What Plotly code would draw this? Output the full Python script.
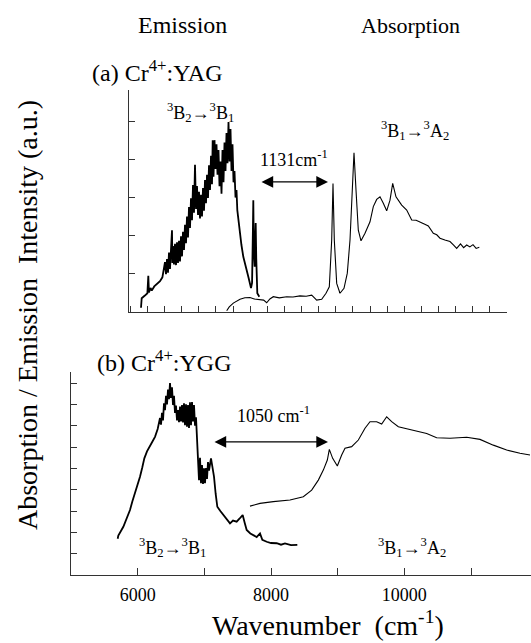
import plotly.graph_objects as go

W, H = 531, 643

# ---------------- data ----------------
# (a) Cr4+:YAG emission (noisy band read as alternating upper / lower values)
yag_em_x = [5888, 5899, 5950, 5990, 6005, 6015, 6040, 6060, 6100, 6140, 6192, 6230,
            6272, 6288, 6304, 6320, 6336, 6352, 6368, 6384, 6390, 6400, 6416, 6432, 6448, 6464,
            6480, 6496, 6512, 6528, 6544, 6560, 6576, 6592, 6608, 6624, 6640, 6656, 6672, 6688,
            6704, 6720, 6736, 6752, 6768, 6784, 6800, 6816, 6832, 6848, 6864, 6880, 6896, 6912,
            6928, 6944, 6960, 6976, 6992, 7008, 7024, 7035, 7048, 7064, 7080, 7096, 7112, 7128,
            7144, 7160, 7176, 7192, 7208, 7224, 7240, 7256, 7272, 7288, 7304, 7320, 7336, 7352,
            7368, 7384, 7400, 7416, 7429, 7450, 7472, 7495, 7525, 7550, 7579,
            7610, 7648, 7665, 7678, 7685, 7693, 7707, 7715, 7723, 7732, 7749, 7781]
yag_em_y = [0.10, 0.35, 0.42, 0.48, 0.94, 0.50, 0.62, 0.55, 0.66, 0.72, 0.80, 0.90,
            1.30, 0.98, 1.38, 1.02, 1.55, 1.12, 1.70, 2.14, 1.28, 1.72, 1.24, 1.78, 1.22, 1.82,
            1.28, 1.86, 1.32, 1.98, 1.45, 2.10, 1.62, 2.28, 1.80, 2.50, 1.95, 2.75, 2.20, 2.98,
            2.40, 3.33, 2.60, 3.86, 2.70, 3.30, 2.54, 3.15, 2.45, 3.07, 2.50, 3.25, 2.65, 3.46,
            2.85, 3.60, 2.99, 3.85, 3.20, 4.10, 3.35, 4.51, 3.55, 4.51, 3.75, 4.40, 3.60, 4.25,
            3.30, 3.95, 3.10, 4.25, 3.40, 4.45, 3.70, 4.70, 3.90, 4.99, 3.95, 4.80, 3.70, 4.40,
            3.40, 3.70, 3.00, 3.20, 2.67, 2.35, 2.07, 1.75, 1.44, 1.25, 1.09,
            0.88, 0.62, 0.75, 2.10, 2.93, 1.60, 1.18, 1.90, 2.33, 1.40, 0.48, 0.39]

# (a) Cr4+:YAG absorption
yag_ab_x = [7259, 7300, 7365, 7420, 7472, 7550, 7632, 7700, 7792, 7850, 7899, 7950, 8005, 8100, 8219,
            8320, 8432, 8530, 8619, 8699, 8779, 8848, 8901, 8939, 8960, 8981, 9019, 9072, 9136, 9189,
            9232, 9264, 9296, 9328, 9365, 9408, 9472, 9552, 9605, 9659, 9712, 9765, 9819, 9872, 9915,
            9968, 10059, 10139, 10219, 10290, 10352, 10420, 10485, 10565, 10620, 10672, 10750, 10832,
            10890, 10939, 11000, 11050, 11099, 11150, 11200, 11250, 11301]
yag_ab_y = [0.02, 0.12, 0.22, 0.28, 0.32, 0.36, 0.37, 0.33, 0.32, 0.30, 0.23, 0.33, 0.39, 0.36, 0.39,
            0.38, 0.41, 0.40, 0.43, 0.30, 0.32, 0.48, 0.65, 1.88, 3.37, 1.88, 0.74, 0.48, 0.61, 1.01,
            1.88, 3.20, 4.18, 3.20, 2.14, 1.86, 2.06, 2.36, 2.76, 2.95, 3.02, 2.85, 2.65, 2.93, 3.37,
            3.02, 2.80, 2.67, 2.41, 2.40, 2.36, 2.30, 2.25, 2.06, 2.02, 1.93, 1.88, 1.84, 1.75, 1.66,
            1.78, 1.68, 1.75, 1.70, 1.76, 1.66, 1.69]

# (b) Cr4+:YGG emission (noisy band read as alternating upper / lower values)
ygg_em_x = [5700, 5710, 5785, 5830, 5885, 5920, 5960, 6000, 6035, 6070, 6100, 6140, 6185, 6220, 6260,
            6300, 6335, 6350, 6365, 6380, 6395, 6410, 6425, 6440, 6455, 6470, 6485, 6500, 6515, 6530,
            6545, 6560, 6575, 6590, 6605, 6620, 6635, 6650, 6665, 6680, 6695, 6710, 6725, 6740, 6755,
            6770, 6785, 6800, 6815, 6830, 6845, 6860, 6875, 6890, 6905, 6920, 6935, 6950, 6965, 6980,
            6995, 7010, 7025, 7040, 7055, 7070, 7100, 7120, 7145,
            7170, 7195, 7240, 7285, 7330, 7385, 7430, 7485, 7530, 7575, 7605, 7635, 7690, 7735, 7785,
            7835, 7870, 7935, 8000, 8085, 8150, 8210, 8300, 8395]
ygg_em_y = [1.70, 1.85, 2.26, 2.60, 3.05, 3.45, 3.83, 4.20, 4.61, 5.05, 5.47, 5.80, 6.02, 6.25, 6.48,
            6.85, 7.36, 7.05, 7.60, 7.25, 8.05, 7.73, 8.40, 8.00, 8.70, 8.25, 9.00, 8.30, 8.80, 7.97,
            8.40, 7.60, 7.95, 7.25, 7.73, 7.17, 7.90, 7.20, 7.97, 7.15, 8.05, 7.03, 8.00, 6.95, 7.97,
            6.90, 8.10, 7.03, 8.11, 7.20, 7.97, 7.00, 7.40, 6.33, 6.00, 4.45, 5.50, 4.30, 5.16, 4.27,
            5.00, 4.31, 5.02, 4.50, 5.30, 4.90, 5.47, 5.10, 4.61,
            3.80, 3.20, 3.00, 2.81, 2.60, 2.42, 2.55, 2.50, 2.65, 2.81, 2.45, 2.11, 1.95, 1.88, 1.78,
            1.95, 1.65, 1.56, 1.50, 1.49, 1.42, 1.48, 1.40, 1.41]

# (b) Cr4+:YGG absorption
ygg_ab_x = [7685, 7835, 8035, 8285, 8485, 8610, 8710, 8785, 8845, 8875, 8925, 8995, 9060, 9110, 9210,
            9310, 9410, 9485, 9585, 9660, 9735, 9810, 9910, 10135, 10335, 10485, 10685, 10935, 11135,
            11335, 11535, 11735, 11885]
ygg_ab_y = [3.23, 3.36, 3.44, 3.52, 3.67, 3.98, 4.45, 4.92, 5.39, 5.89, 5.47, 5.11, 5.63, 5.94, 6.02,
            6.33, 6.88, 7.19, 7.19, 7.08, 7.42, 7.19, 6.95, 6.80, 6.64, 6.44, 6.41, 6.46, 6.36,
            6.09, 5.86, 5.71, 5.63]

top_tick_vals = [8000, 10000]
top_tick_text = ["8000", "10000"]
bot_tick_vals = [6000, 7000, 8000, 9000, 10000, 11000]
bot_tick_text = ["6000", "", "8000", "", "10000", ""]

# ---------------- figure ----------------
def fx(px):
    return px / W

def fy(py):
    return 1 - py / H

FONT = "Liberation Serif"
AX = "#333333"

fig = go.Figure()
fig.add_trace(go.Scatter(x=yag_em_x, y=yag_em_y, mode="lines", xaxis="x", yaxis="y",
                         line=dict(color="black", width=1.8)))
fig.add_trace(go.Scatter(x=yag_ab_x, y=yag_ab_y, mode="lines", xaxis="x", yaxis="y",
                         line=dict(color="black", width=1.1)))
fig.add_trace(go.Scatter(x=ygg_em_x, y=ygg_em_y, mode="lines", xaxis="x2", yaxis="y2",
                         line=dict(color="black", width=1.8)))
fig.add_trace(go.Scatter(x=ygg_ab_x, y=ygg_ab_y, mode="lines", xaxis="x2", yaxis="y2",
                         line=dict(color="black", width=1.1)))

axis_common = dict(showgrid=False, zeroline=False,
                   tickfont=dict(family=FONT, size=18, color="black"))

top_dom = [fx(129), fx(507)]
top_range = [5696, 11744]

fig.update_layout(
    width=W, height=H, margin=dict(l=0, r=0, t=0, b=0),
    paper_bgcolor="white", plot_bgcolor="white", showlegend=False,
    font=dict(family=FONT, color="black"),
    # top panel: ticks only (no labels)
    xaxis=dict(domain=top_dom, range=top_range, anchor="y",
               tickmode="linear", tick0=5990, dtick=274, ticks="inside", ticklen=6, tickcolor=AX,
               showticklabels=False, showline=True, linecolor=AX, linewidth=1.2, **axis_common),
    # top panel: labels only
    xaxis3=dict(domain=top_dom, range=top_range, anchor="y", overlaying="x", side="bottom",
                tickmode="array", tickvals=top_tick_vals, ticktext=top_tick_text,
                ticks="outside", ticklen=12, tickcolor="rgba(0,0,0,0)",
                showline=False, **axis_common),
    yaxis=dict(domain=[fy(311.5), fy(90)], range=[0, 5.83], anchor="x",
               tickmode="array", tickvals=[1, 2, 3, 4, 5], ticks="inside", ticklen=6, tickcolor=AX,
               showticklabels=False, showline=True, linecolor=AX, linewidth=1.2, **axis_common),
    xaxis2=dict(domain=[fx(71), 1.0], range=[5000, 11900], anchor="y2",
                tickmode="array", tickvals=bot_tick_vals, ticktext=bot_tick_text,
                ticks="inside", ticklen=7, tickcolor=AX, ticklabelstandoff=3,
                showline=True, linecolor=AX, linewidth=1.2, **axis_common),
    yaxis2=dict(domain=[fy(575), fy(372)], range=[0, 9.52], anchor="x2",
                tickmode="array", tickvals=list(range(1, 10)), ticks="inside", ticklen=6, tickcolor=AX,
                showticklabels=False, showline=True, linecolor=AX, linewidth=1.2, **axis_common),
)

def note(text, px, py, size, xanchor="center", angle=0):
    fig.add_annotation(text=text, x=fx(px), y=fy(py), xref="paper", yref="paper",
                       xanchor=xanchor, yanchor="middle", showarrow=False, textangle=angle,
                       font=dict(family=FONT, size=size, color="black"))

note("Emission", 182, 25, 24)
note("Absorption", 410, 25, 22)
note("(a) Cr<sup>4+</sup>:YAG", 90, 71, 24, xanchor="left")
note("(b) Cr<sup>4+</sup>:YGG", 95, 361, 24, xanchor="left")
note("<sup>3</sup>B<sub>2</sub>\u2192<sup>3</sup>B<sub>1</sub>", 200, 112, 18)
note("<sup>3</sup>B<sub>1</sub>\u2192<sup>3</sup>A<sub>2</sub>", 415, 130, 18)
note("1131cm<sup>-1</sup>", 294, 159, 18)
note("1050 cm<sup>-1</sup>", 273, 415, 18)
note("<sup>3</sup>B<sub>2</sub>\u2192<sup>3</sup>B<sub>1</sub>", 172, 547, 18)
note("<sup>3</sup>B<sub>1</sub>\u2192<sup>3</sup>A<sub>2</sub>", 412, 547, 18)
note("Wavenumber  (cm<sup>-1</sup>)", 328, 623, 28)
note("Absorption / Emission  Intensity (a.u.)", 27, 315, 28, angle=-90)

# double-headed arrows
fig.add_annotation(x=8880, y=3.41, ax=7792, ay=3.41, xref="x", yref="y", axref="x", ayref="y",
                   text="", showarrow=True, arrowhead=2, startarrowhead=2, arrowside="end+start",
                   arrowsize=1.8, startarrowsize=1.8, arrowwidth=1.3, arrowcolor="black")
fig.add_annotation(x=8855, y=6.24, ax=7130, ay=6.24, xref="x2", yref="y2", axref="x2", ayref="y2",
                   text="", showarrow=True, arrowhead=2, startarrowhead=2, arrowside="end+start",
                   arrowsize=1.8, startarrowsize=1.8, arrowwidth=1.3, arrowcolor="black")

fig.write_html("out.html", config={"displayModeBar": False, "staticPlot": True},
               post_script="document.body.style.margin='0';document.body.style.overflow='hidden';")
